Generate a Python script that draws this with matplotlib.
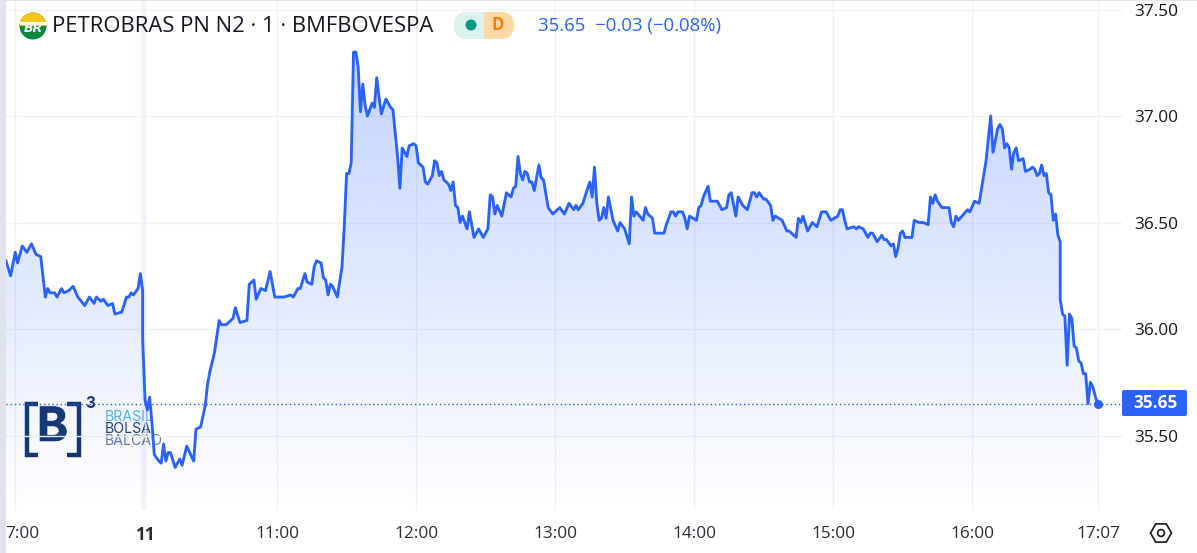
import numpy as np
import matplotlib
matplotlib.use("Agg")
import matplotlib.pyplot as plt
import matplotlib.patheffects as pe
from matplotlib.patches import Rectangle, Circle, Wedge, FancyBboxPatch, RegularPolygon

plt.rcParams['font.family'] = ['Open Sans', 'DejaVu Sans']

# bar index relative to the first bar of the session labelled "11"
bars = [-60,-58,-56,-55,-53,-51,-49,-47,-45,-43,-42,-41,-39,-38,-36,-35,-33,-31,-29,-26,-24,-22,-21,-19,-18,-16,-14,-13,-10,-8,-7,-6,-5,-3,-2,-1,-1,
        0,1,2,3,4,6,7,8,9,10,11,13,15,16,18,21,22,24,25,26,27,28,30,32,33,35,38,39,41,44,45,47,48,50,52,54,56,60,63,64,66,67,69,70,72,73,74,76,77,78,79,80,81,83,85,86,87,88,89,
        90,91,92,93,94,95,96,98,99,100,101,102,104,106,107,108,109,110,111,113,114,116,117,118,120,121,122,124,125,126,127,128,129,131,132,133,134,135,136,137,138,139,140,142,144,146,148,149,
        150,151,152,154,156,158,159,160,161,162,163,164,165,166,167,168,170,171,172,174,176,179,181,183,185,186,187,189,191,192,193,194,195,196,197,198,199,200,202,204,205,207,209,
        210,211,212,215,216,217,219,220,224,225,227,228,229,230,232,233,234,235,238,239,240,241,243,244,247,249,251,252,253,255,256,258,260,262,263,264,265,267,268,270,271,272,275,277,278,281,282,283,284,286,288,
        290,292,294,296,299,300,301,302,303,306,307,308,310,312,313,314,316,318,319,320,322,323,324,325,326,327,328,331,332,334,336,338,339,340,341,342,344,347,348,349,350,351,355,356,358,360,
        363,365,366,368,369,370,371,372,373,374,375,376,377,379,380,382,383,384,385,386,387,388,389,390,391,392,393,394,395,395,396,397,398,399,400,401,402,403,404,405,406,407,408,409,410.5,411.5]
prices = [36.32,36.25,36.36,36.31,36.39,36.36,36.40,36.35,36.34,36.15,36.19,36.17,36.17,36.15,36.19,36.17,36.18,36.20,36.15,36.11,36.15,36.12,36.15,36.13,36.14,36.11,36.12,36.07,36.08,36.15,36.15,36.17,36.16,36.19,36.26,36.18,35.95,
          35.67,35.62,35.68,35.56,35.41,35.38,35.37,35.46,35.38,35.42,35.42,35.35,35.39,35.36,35.45,35.38,35.53,35.54,35.59,35.64,35.74,35.80,35.89,36.04,36.02,36.02,36.05,36.10,36.03,36.04,36.21,36.23,36.14,36.19,36.18,36.27,36.15,36.15,36.16,36.15,36.19,36.19,36.26,36.22,36.21,36.29,36.32,36.31,36.24,36.23,36.16,36.21,36.20,36.15,36.29,36.48,36.73,36.73,36.78,
          37.30,37.30,37.23,37.02,37.15,37.05,37.00,37.06,37.04,37.18,37.09,37.01,37.08,37.04,37.03,36.92,36.81,36.66,36.85,36.81,36.86,36.87,36.86,36.78,36.76,36.69,36.68,36.72,36.79,36.78,36.72,36.74,36.70,36.68,36.65,36.69,36.58,36.57,36.50,36.53,36.50,36.47,36.55,36.43,36.47,36.43,36.47,36.63,
          36.62,36.54,36.58,36.53,36.64,36.62,36.66,36.67,36.81,36.73,36.70,36.74,36.73,36.69,36.69,36.65,36.77,36.71,36.70,36.57,36.54,36.57,36.54,36.59,36.56,36.58,36.56,36.59,36.66,36.69,36.62,36.76,36.59,36.51,36.52,36.57,36.52,36.62,36.51,36.46,36.50,36.47,36.40,
          36.62,36.53,36.55,36.51,36.57,36.54,36.52,36.45,36.45,36.49,36.55,36.55,36.53,36.55,36.55,36.52,36.47,36.53,36.51,36.57,36.58,36.62,36.67,36.60,36.60,36.56,36.57,36.63,36.64,36.53,36.62,36.58,36.56,36.64,36.64,36.62,36.64,36.61,36.61,36.58,36.51,36.53,36.51,36.46,36.46,36.43,36.52,36.50,36.53,36.46,36.50,
          36.48,36.55,36.55,36.51,36.53,36.56,36.56,36.51,36.47,36.48,36.47,36.48,36.47,36.43,36.45,36.45,36.41,36.44,36.42,36.42,36.39,36.40,36.34,36.38,36.45,36.46,36.43,36.43,36.51,36.50,36.50,36.49,36.62,36.59,36.63,36.60,36.57,36.57,36.50,36.48,36.53,36.51,36.56,36.55,36.60,36.59,
          36.79,37.00,36.83,36.94,36.96,36.94,36.85,36.87,36.85,36.75,36.83,36.85,36.79,36.80,36.74,36.75,36.76,36.75,36.72,36.73,36.77,36.72,36.73,36.64,36.63,36.51,36.54,36.44,36.41,36.14,36.07,36.06,35.83,36.07,36.05,35.92,35.91,35.85,35.84,35.79,35.79,35.65,35.75,35.73,35.67,35.65]

price_ticks = [35.5, 36.0, 36.5, 37.0, 37.5]
price_labels = ['35.50', '36.00', '36.50', '37.00', '37.50']
grid_bars = [-56, 0, 57, 117, 177, 237, 297, 357, 411.5]
time_label_bars = [-53, 0, 57, 117, 177, 237, 297, 357, 411.5]
time_labels = ['7:00', '11', '11:00', '12:00', '13:00', '14:00', '15:00', '16:00', '17:07']
last_price = 35.65
title = 'PETROBRAS PN N2 · 1 · BMFBOVESPA'
quote = '35.65  −0.03 (−0.08%)'

W, H = 1197, 553
BLUE = '#2962ff'
GRID = '#eff1f6'
INK = '#131722'

fig = plt.figure(figsize=(W/100, H/100), dpi=100, facecolor='white')

def px_axes(z):
    a = fig.add_axes([0, 0, 1, 1], zorder=z)
    a.set_xlim(0, W); a.set_ylim(H, 0); a.axis('off')
    return a

# logo layer, under the plot
under = px_axes(0)
LOGO = '#14366f'
under.plot([38, 26.5, 26.5, 38], [403.5, 403.5, 454.5, 454.5], color=LOGO, lw=3.2, solid_joinstyle='miter', solid_capstyle='butt')
under.plot([67, 78.5, 78.5, 67], [403.5, 403.5, 454.5, 454.5], color=LOGO, lw=3.2, solid_joinstyle='miter', solid_capstyle='butt')
under.text(52.5, 429, 'B', fontsize=34, fontweight='bold', color=LOGO, ha='center', va='center', family='Inter',
           path_effects=[pe.withStroke(linewidth=0.4, foreground=LOGO)])
under.text(90, 403, '3', fontsize=11, fontweight='bold', color=LOGO, ha='center', va='center', family='Inter')
under.text(105, 417, 'BRASIL', fontsize=10.2, color='#55b8e8', ha='left', va='center', family='Inter')
under.text(105, 429, 'BOLSA', fontsize=10.2, color='#1f3f78', ha='left', va='center', family='Inter')
under.text(105, 441, 'BALCÃO', fontsize=10.2, color='#66799e', ha='left', va='center', family='Inter')
under.add_patch(Rectangle((141, 0), 4.5, 510, color='#f0f4ff', lw=0))

# plot
ax = fig.add_axes([6/W, 1-510/H, 1116/W, 510/H], zorder=1)
ax.patch.set_alpha(0)
x0 = (6-145)/2.317; x1 = (1122-145)/2.317
y0 = 37-(510-116)/213; y1 = 37+116/213
ax.set_xlim(x0, x1); ax.set_ylim(y0, y1)
for s in ax.spines.values():
    s.set_visible(False)

for g in grid_bars:
    ax.axvline(g, color=GRID, lw=1, zorder=1)
ax.set_yticks(price_ticks, price_labels)
ax.yaxis.tick_right()
ax.tick_params(axis='y', length=0, pad=9, labelsize=12.4, labelcolor=INK)
ax.set_xticks(time_label_bars, time_labels)
ax.tick_params(axis='x', length=0, pad=11.5, labelsize=12.4, labelcolor='#2a2e39')
ax.get_xticklabels()[1].set_fontweight('bold')
ax.grid(axis='y', color=GRID, lw=1, zorder=1)
ax.set_axisbelow(True)

poly = ax.fill_between(bars, prices, y0, color='none', lw=0)
grad = np.zeros((256, 2, 4))
grad[..., 0] = 0x29/255; grad[..., 1] = 0x62/255; grad[..., 2] = 1.0
grad[..., 3] = np.linspace(0.28, 0.0, 256)[:, None]
im = ax.imshow(grad, extent=[x0, x1, y0, 37.3], origin='upper', aspect='auto', zorder=2, interpolation='bilinear')
im.set_clip_path(poly.get_paths()[0], transform=ax.transData)
ax.set_xlim(x0, x1); ax.set_ylim(y0, y1)

ax.axhline(last_price, color=BLUE, lw=1, ls=(0, (1, 2)), zorder=3)
ax.plot(bars, prices, color=BLUE, lw=2.05, zorder=4, solid_joinstyle='round')
ax.plot([bars[-1]], [prices[-1]], 'o', color=BLUE, ms=6.5, mew=0, zorder=5)

# header, tag and frame
top = px_axes(2)
top.add_patch(Rectangle((0, 0), 6, H, color='#e0e3eb', lw=0))
top.add_patch(Rectangle((0, 0), W, 1, color='#e0e3eb', lw=0))
# company badge
top.add_patch(Circle((33, 26), 13.5, color='#0b8a3e', lw=0))
top.add_patch(Wedge((33, 26), 13.5, 180, 360, color='#f8c51c', lw=0))
top.add_patch(Rectangle((19.5, 22), 27, 3, color='white', lw=0))
top.text(33, 29, 'BR', fontsize=9, fontweight='bold', style='italic', color='white', ha='center', va='center', family='DejaVu Sans')
top.text(52, 26.5, title, fontsize=15.8, color=INK, ha='left', va='center')
# status pill
left = FancyBboxPatch((454, 12), 60, 27, boxstyle='round,pad=0,rounding_size=13.5', color='#ffd9a3', lw=0)
top.add_patch(left)
clip_left = Rectangle((454, 12), 30, 27, color='#dcf2ee', lw=0)
top.add_patch(clip_left)
clip_left.set_clip_path(left)
top.add_patch(Circle((471, 25), 5.5, color='#089981', lw=0))
top.text(498, 25.5, 'D', fontsize=12, fontweight='bold', color='#ff7a00', ha='center', va='center')
top.text(538, 26, quote, fontsize=13.4, color=BLUE, ha='left', va='center')
# price tag
top.add_patch(FancyBboxPatch((1122, 390), 65, 26, boxstyle='round,pad=0,rounding_size=2', color=BLUE, lw=0))
top.text(1156, 403.5, f'{last_price:.2f}', fontsize=12.4, fontweight='bold', color='white', ha='center', va='center')
# settings icon
top.add_patch(RegularPolygon((1161, 533), 6, radius=10.5, orientation=np.pi/6*3, fill=False, ec=INK, lw=1.2))
top.add_patch(Circle((1161, 533), 3.4, fill=False, ec=INK, lw=1.2))

fig.savefig('out.png', dpi=100, facecolor='white')
